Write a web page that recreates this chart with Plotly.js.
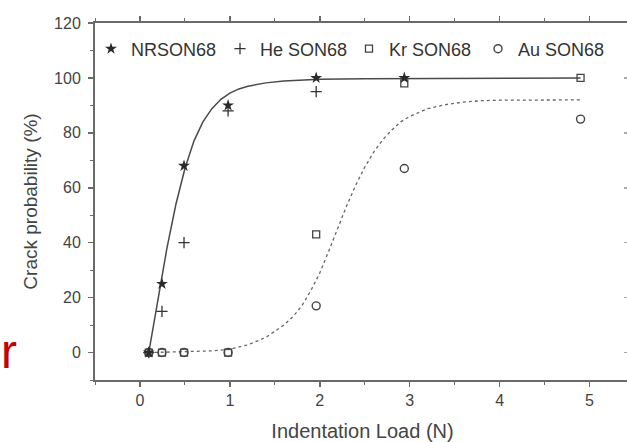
<!DOCTYPE html>
<html>
<head>
<meta charset="utf-8">
<script src="https://cdn.plot.ly/plotly-3.0.1.min.js"></script>
<style>
  html, body { margin: 0; padding: 0; overflow: hidden; background: #fff; }
  #chart { width: 632px; height: 442px; }
</style>
</head>
<body>
<div id="chart"></div>
<script>
// Indentation loads (N) and crack probability (%) for each glass
const loadNR = [0.098, 0.245, 0.49, 0.98, 1.96, 2.94];
const crackNR = [0, 25, 68, 90, 100, 100];

const loadHe = [0.098, 0.245, 0.49, 0.98, 1.96];
const crackHe = [0, 15, 40, 88, 95];

const loadKr = [0.098, 0.245, 0.49, 0.98, 1.96, 2.94, 4.9];
const crackKr = [0, 0, 0, 0, 43, 98, 100];

const loadAu = [0.098, 0.245, 0.49, 0.98, 1.96, 2.94, 4.9];
const crackAu = [0, 0, 0, 0, 17, 67, 85];

// Fitted sigmoid curves (solid: pristine glass, dotted: irradiated glass)
const fitNRx = [0.098, 0.2, 0.3, 0.4, 0.5, 0.6, 0.7, 0.8, 0.9, 1.0, 1.1, 1.2, 1.4, 1.6, 1.8, 2.0, 2.5, 3.0, 4.9];
const fitNRy = [0, 19.5, 38, 54, 67, 77, 84, 88.8, 92.2, 94.5, 96, 97, 98.2, 98.9, 99.3, 99.5, 99.7, 99.8, 100];

const fitIonx = [0.098, 0.5, 0.8, 1.0, 1.2, 1.4, 1.6, 1.7, 1.8, 1.9, 2.0, 2.1, 2.2, 2.3, 2.4, 2.5,
                 2.6, 2.7, 2.8, 2.9, 3.0, 3.2, 3.4, 3.6, 3.8, 4.0, 4.9];
const fitIony = [0, 0.2, 0.6, 1.2, 2.8, 5.5, 10, 13, 17, 22.5, 29, 37, 45.5, 53.5, 61, 67.5,
                 73, 77.5, 81, 84, 86, 88.8, 90.3, 91.2, 91.7, 91.9, 92];

const xTicks = [0, 1, 2, 3, 4, 5];
const yTicks = [0, 20, 40, 60, 80, 100, 120];

const font = 'Liberation Sans, Arial, sans-serif';
const axisCol = '#6a6a6a';

const traces = [
  { x: fitNRx, y: fitNRy, mode: 'lines', line: { color: '#4a4a4a', width: 1.5 },
    showlegend: false, hoverinfo: 'skip' },
  { x: fitIonx, y: fitIony, mode: 'lines', line: { color: '#666', width: 1.3, dash: 'dot' },
    showlegend: false, hoverinfo: 'skip' },
  { x: loadAu, y: crackAu, name: 'Au SON68', mode: 'markers',
    marker: { symbol: 'circle-open', size: 8, color: '#444', line: { width: 1.4, color: '#444' } } },
  { x: loadKr, y: crackKr, name: 'Kr SON68', mode: 'markers',
    marker: { symbol: 'square-open', size: 7, color: '#444', line: { width: 1.3, color: '#444' } } },
  { x: loadHe, y: crackHe, name: 'He SON68', mode: 'markers',
    marker: { symbol: 'cross-thin', size: 8, color: '#333', line: { width: 1.3, color: '#333' } } },
  { x: loadNR, y: crackNR, name: 'NRSON68', mode: 'markers',
    marker: { symbol: 'star', size: 9, color: '#2a2a2a', line: { width: 0 } } },
  // registers the right-hand tick axis
  { x: [null], y: [null], yaxis: 'y2', showlegend: false, hoverinfo: 'skip', mode: 'markers' }
];

const layout = {
  width: 632, height: 442,
  margin: { l: 95, r: 2, t: 23, b: 62 },
  paper_bgcolor: '#fff', plot_bgcolor: '#fff',
  font: { family: font, color: '#3a3a3a', size: 16 },
  showlegend: true,
  legend: {
    orientation: 'h', traceorder: 'reversed',
    x: 0.957, xanchor: 'right', y: 0.979, yanchor: 'top',
    entrywidth: 84, entrywidthmode: 'pixels',
    font: { family: font, size: 18, color: '#333' },
    bgcolor: 'rgba(0,0,0,0)', borderwidth: 0
  },
  xaxis: {
    range: [-0.5, 5.45], tickvals: xTicks, ticktext: xTicks.map(String),
    showgrid: false, zeroline: false,
    showline: true, linecolor: axisCol, linewidth: 2, mirror: 'ticks',
    ticks: 'outside', ticklen: 5, tickwidth: 1.5, tickcolor: axisCol,
    minor: { dtick: 0.5, ticks: 'outside', ticklen: 3, tickwidth: 1, tickcolor: axisCol },
    tickfont: { size: 16, color: '#444' },
    title: { text: 'Indentation Load (N)', font: { size: 20, color: '#444' }, standoff: 16 }
  },
  yaxis: {
    range: [-10, 120], tickvals: yTicks, ticktext: yTicks.map(String),
    showgrid: false, zeroline: false,
    showline: true, linecolor: axisCol, linewidth: 2, mirror: true,
    ticks: 'outside', ticklen: 5, tickwidth: 1.5, tickcolor: axisCol,
    minor: { dtick: 10, ticks: 'outside', ticklen: 3, tickwidth: 1, tickcolor: axisCol },
    tickfont: { size: 16, color: '#444' }, ticklabelstandoff: 4,
    title: { text: 'Crack probability (%)', font: { size: 19, color: '#444' }, standoff: 11 }
  },
  yaxis2: {
    overlaying: 'y', side: 'right', range: [-10, 120], tickvals: yTicks,
    showticklabels: false, showgrid: false, zeroline: false, showline: false,
    ticks: 'inside', ticklen: 6, tickwidth: 1.5, tickcolor: '#aaa'
  },
  annotations: [
    { text: 'r', xref: 'paper', yref: 'paper', x: -0.1776, y: 0.08, xanchor: 'left', yanchor: 'middle',
      showarrow: false, borderpad: 0, font: { family: font, size: 48, color: '#c40000' } }
  ]
};

Plotly.newPlot('chart', traces, layout, { displayModeBar: false, staticPlot: true });
</script>
</body>
</html>
